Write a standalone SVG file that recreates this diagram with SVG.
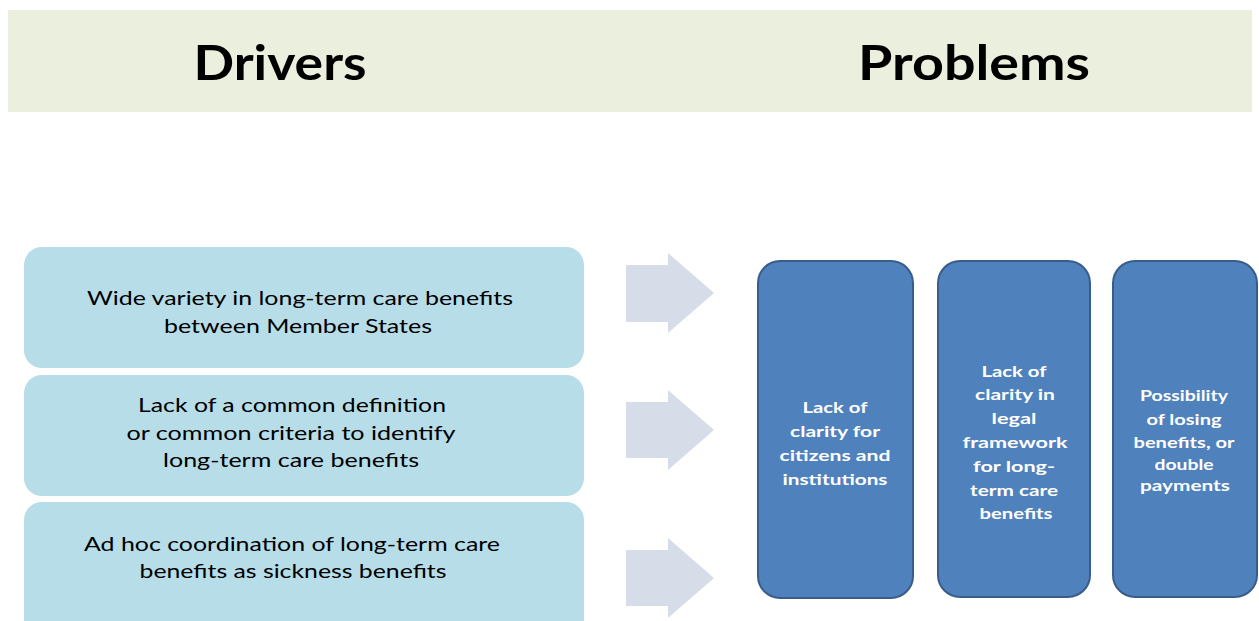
<svg xmlns="http://www.w3.org/2000/svg" width="1259" height="621" viewBox="0 0 1259 621">
<style>
.hdr{font-family:Lato,"Liberation Sans",Arial,sans-serif;font-weight:bold;font-size:48px;fill:#000;text-anchor:middle}
.drv{fill:#b7dde8}
.dt{font-family:Lato,"Liberation Sans",Arial,sans-serif;font-size:20px;fill:#000;text-anchor:middle}
.prb{fill:#4f81bd;stroke:#385d8a;stroke-width:2}
.pt{font-family:Lato,"Liberation Sans",Arial,sans-serif;font-weight:bold;font-size:16px;fill:#fff;text-anchor:middle}
.arr{fill:#d6dce8}
</style>
<rect width="1259" height="621" fill="#fff"/>
<g id="header">
<rect x="8" y="10" width="1244" height="102" fill="#ebefdd"/>
<text class="hdr" x="280" y="80" textLength="173" lengthAdjust="spacingAndGlyphs">Drivers</text>
<text class="hdr" x="974" y="80" textLength="232" lengthAdjust="spacingAndGlyphs">Problems</text>
</g>
<g id="driver1">
<rect class="drv" x="24" y="247" width="560" height="121" rx="18"/>
<text class="dt" x="300" y="305" textLength="426" lengthAdjust="spacingAndGlyphs">Wide variety in long-term care benefits</text>
<text class="dt" x="298" y="333" textLength="268" lengthAdjust="spacingAndGlyphs">between Member States</text>
</g>
<g id="driver2">
<rect class="drv" x="24" y="375" width="560" height="121" rx="18"/>
<text class="dt" x="292" y="412" textLength="308" lengthAdjust="spacingAndGlyphs">Lack of a common definition</text>
<text class="dt" x="291" y="440" textLength="329" lengthAdjust="spacingAndGlyphs">or common criteria to identify</text>
<text class="dt" x="291" y="467" textLength="256" lengthAdjust="spacingAndGlyphs">long-term care benefits</text>
</g>
<g id="driver3">
<rect class="drv" x="24" y="502" width="560" height="140" rx="18"/>
<text class="dt" x="292" y="551" textLength="416" lengthAdjust="spacingAndGlyphs">Ad hoc coordination of long-term care</text>
<text class="dt" x="293" y="578" textLength="307" lengthAdjust="spacingAndGlyphs">benefits as sickness benefits</text>
</g>
<g id="connectors">
<polygon class="arr" points="626,265 668,265 668,253 714,293 668,333 668,322 626,322"/>
<polygon class="arr" points="626,402 668,402 668,390 714,430 668,470 668,458 626,458"/>
<polygon class="arr" points="626,550 668,550 668,538 714,578 668,618 668,606 626,606"/>
</g>
<g id="problem1">
<rect class="prb" x="758" y="261" width="155" height="337" rx="22"/>
<text class="pt" x="835" y="413" textLength="65" lengthAdjust="spacingAndGlyphs">Lack of</text>
<text class="pt" x="835" y="437" textLength="90" lengthAdjust="spacingAndGlyphs">clarity for</text>
<text class="pt" x="835" y="461" textLength="111" lengthAdjust="spacingAndGlyphs">citizens and</text>
<text class="pt" x="835" y="485" textLength="105" lengthAdjust="spacingAndGlyphs">institutions</text>
</g>
<g id="problem2">
<rect class="prb" x="938" y="261" width="152" height="336" rx="22"/>
<text class="pt" x="1014" y="377" textLength="65" lengthAdjust="spacingAndGlyphs">Lack of</text>
<text class="pt" x="1015" y="400" textLength="80" lengthAdjust="spacingAndGlyphs">clarity in</text>
<text class="pt" x="1014" y="424" textLength="45" lengthAdjust="spacingAndGlyphs">legal</text>
<text class="pt" x="1015" y="448" textLength="105" lengthAdjust="spacingAndGlyphs">framework</text>
<text class="pt" x="1014" y="472" textLength="82" lengthAdjust="spacingAndGlyphs">for long-</text>
<text class="pt" x="1014" y="496" textLength="88" lengthAdjust="spacingAndGlyphs">term care</text>
<text class="pt" x="1016" y="519" textLength="73" lengthAdjust="spacingAndGlyphs">benefits</text>
</g>
<g id="problem3">
<rect class="prb" x="1113" y="261" width="144" height="336" rx="22"/>
<text class="pt" x="1184" y="401" textLength="88" lengthAdjust="spacingAndGlyphs">Possibility</text>
<text class="pt" x="1184" y="425" textLength="75" lengthAdjust="spacingAndGlyphs">of losing</text>
<text class="pt" x="1184" y="448" textLength="101" lengthAdjust="spacingAndGlyphs">benefits, or</text>
<text class="pt" x="1184" y="470" textLength="59" lengthAdjust="spacingAndGlyphs">double</text>
<text class="pt" x="1185" y="491" textLength="90" lengthAdjust="spacingAndGlyphs">payments</text>
</g>
</svg>
